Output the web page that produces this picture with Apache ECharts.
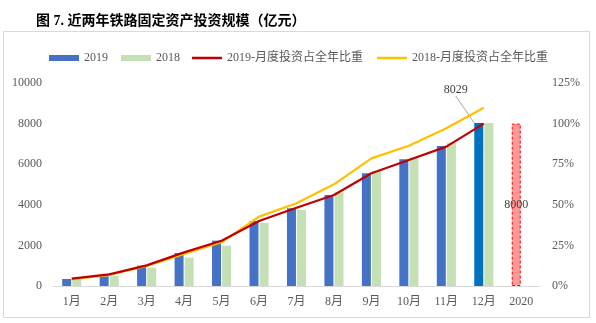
<!DOCTYPE html>
<html>
<head>
<meta charset="utf-8">
<script src="https://cdn.jsdelivr.net/npm/echarts@6/dist/echarts.min.js"></script>
<style>html,body{margin:0;padding:0;background:#fff;}#c{width:596px;height:323px;}</style>
</head>
<body>
<div id="c"></div>
<script>
var categories = ['1月','2月','3月','4月','5月','6月','7月','8月','9月','10月','11月','12月','2020'];
var invest2019 = [345, 480, 1000, 1626, 2233, 3202, 3828, 4483, 5552, 6241, 6897, 8029];
var invest2018 = [320, 493, 902, 1396, 1987, 3118, 3744, 4616, 5665, 6340, 7059, 8028];
var plan2020 = 8000;
var share2019 = [4.5, 7.2, 12.7, 20.7, 27.9, 40.0, 48.2, 56.0, 69.4, 77.6, 85.8, 100];
var share2018 = [4.1, 6.8, 12.3, 19.7, 26.9, 42.7, 50.9, 62.6, 78.6, 86.4, 97.1, 109.8];
var leftTicks = [0, 10000, 2000];
var rightTicks = [0, 125, 25];

var FONT = "'Liberation Serif', 'Noto Sans CJK SC', serif";
var TXT = '#595959';

var blueData = invest2019.map(function(v, i){
  if (i === 11) {
    return {value: v, itemStyle: {color: '#0070C0'},
      label: {show: true, position: 'top', formatter: '{c}', color: '#404040', fontSize: 12, fontFamily: FONT},
      labelLine: {show: true, lineStyle: {color: '#A6A6A6', width: 1}}};
  }
  return v;
});
blueData.push({value: plan2020,
  itemStyle: {color: '#FF9999', borderColor: '#FF0000', borderWidth: 1, borderType: [3, 2]},
  label: {show: true, position: 'inside', formatter: '{c}', color: '#404040', fontSize: 12, fontFamily: FONT}});
var greenData = invest2018.slice(); greenData.push('-');
var red = share2019.slice(); red.push('-');
var yel = share2018.slice(); yel.push('-');

var chart = echarts.init(document.getElementById('c'), null, {renderer: 'canvas'});
chart.setOption({
  animation: false,
  backgroundColor: '#fff',
  textStyle: {fontFamily: FONT},
  title: {text: '图 7. 近两年铁路固定资产投资规模（亿元）', left: 31, top: 9,
    textStyle: {fontSize: 14, fontWeight: 'bold', color: '#000', fontFamily: FONT}},
  graphic: [{type: 'rect', shape: {x: 3.5, y: 31.5, width: 586, height: 286},
    style: {fill: 'none', stroke: '#D9D9D9', lineWidth: 1}, silent: true, z: -1}],
  legend: [
    {left: 44, top: 47, itemWidth: 30, itemHeight: 6, itemGap: 13, icon: 'rect',
      textStyle: {color: TXT, fontSize: 12, fontFamily: FONT},
      data: ['2019', '2018']},
    {left: 187, top: 47, itemWidth: 30, itemHeight: 2.5, itemGap: 14, icon: 'rect',
      textStyle: {color: TXT, fontSize: 12, fontFamily: FONT},
      data: ['2019-月度投资占全年比重', '2018-月度投资占全年比重']}
  ],
  grid: {left: 53, right: 56, top: 83, bottom: 37, containLabel: false},
  xAxis: {type: 'category', data: categories,
    axisLine: {lineStyle: {color: '#D9D9D9'}}, axisTick: {show: false},
    axisLabel: {color: TXT, fontSize: 12, margin: 10, fontFamily: FONT}},
  yAxis: [
    {type: 'value', min: leftTicks[0], max: leftTicks[1], interval: leftTicks[2],
      splitLine: {show: false}, axisLine: {show: false}, axisTick: {show: false},
      axisLabel: {color: TXT, fontSize: 12, margin: 11, fontFamily: FONT,
        formatter: function(v){ return String(v); }}},
    {type: 'value', min: rightTicks[0], max: rightTicks[1], interval: rightTicks[2],
      splitLine: {show: false}, axisLine: {show: false}, axisTick: {show: false},
      axisLabel: {color: TXT, fontSize: 12, margin: 12, fontFamily: FONT,
        formatter: function(v){ return v + '%'; }}}
  ],
  series: [
    {name: '2019', type: 'bar', data: blueData, barWidth: 9, barGap: '12%',
      itemStyle: {color: '#4472C4'},
      labelLayout: function(p){ if (p.dataIndex === 11) return {dx: -23, dy: -22}; return {}; }},
    {name: '2018', type: 'bar', data: greenData, barWidth: 9, itemStyle: {color: '#C5E0B4'}},
    {name: '2019-月度投资占全年比重', type: 'line', yAxisIndex: 1, data: red,
      symbol: 'none', lineStyle: {color: '#C00000', width: 2.2}, itemStyle: {color: '#C00000'}, z: 5},
    {name: '2018-月度投资占全年比重', type: 'line', yAxisIndex: 1, data: yel,
      symbol: 'none', lineStyle: {color: '#FFC000', width: 2.2}, itemStyle: {color: '#FFC000'}, z: 4}
  ]
});
</script>
</body>
</html>
